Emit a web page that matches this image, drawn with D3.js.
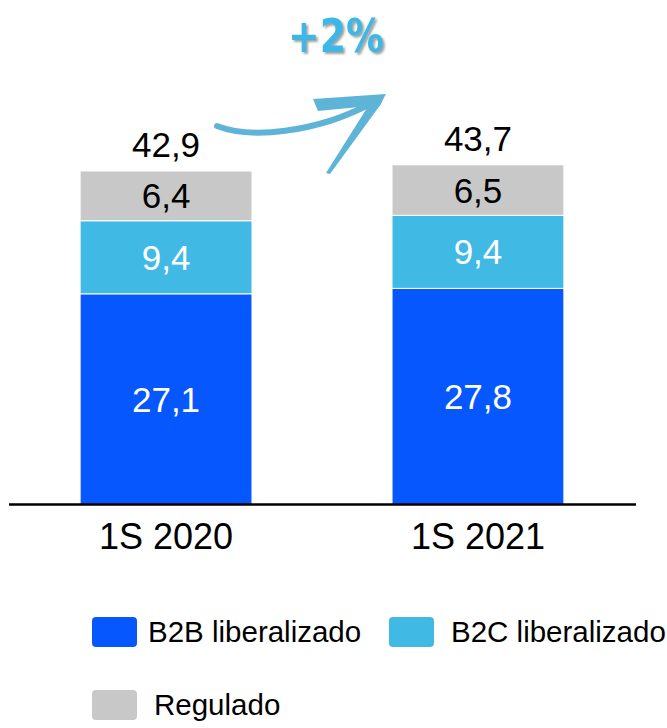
<!DOCTYPE html>
<html>
<head>
<meta charset="utf-8">
<script src="https://cdn.jsdelivr.net/npm/d3@7"></script>
<style>
  body { margin: 0; background: #fff; }
  svg { display: block; font-family: "Liberation Sans", Arial, sans-serif; }
</style>
</head>
<body>
<div id="chart"></div>
<script>
// data
var periods = ["1S 2020", "1S 2021"];
var b2b = [27.1, 27.8];
var b2c = [9.4, 9.4];
var regulado = [6.4, 6.5];
var totals = [42.9, 43.7];
var growthLabel = "+2%";

var seriesNames = ["B2B liberalizado", "B2C liberalizado", "Regulado"];
var seriesKeys = ["b2b", "b2c", "reg"];
var colors = ["#0757FE", "#41B9E5", "#C8C8C8"];
var labelColors = ["#fff", "#fff", "#000"];

var width = 667, height = 728;

var svg = d3.select("#chart").append("svg")
    .attr("width", width)
    .attr("height", height);

var rows = periods.map(function(p, i) {
    return { period: p, b2b: b2b[i], b2c: b2c[i], reg: regulado[i], total: totals[i] };
});

var x = d3.scaleBand()
    .domain(periods)
    .range([9, 635])
    .paddingInner(0.449)
    .paddingOuter(0.228);

var y = d3.scaleLinear()
    .domain([0, 50])
    .range([504.5, 115.8]);

var stack = d3.stack().keys(seriesKeys);
var layers = stack(rows);

// bars
var layerG = svg.selectAll("g.layer")
    .data(layers)
    .enter().append("g")
    .attr("class", "layer")
    .attr("fill", function(d, i) { return colors[i]; });

layerG.selectAll("rect")
    .data(function(d) { return d; })
    .enter().append("rect")
    .attr("x", function(d) { return x(d.data.period); })
    .attr("y", function(d) { return y(d[1]); })
    .attr("width", x.bandwidth())
    .attr("height", function(d) { return y(d[0]) - y(d[1]); })
    .attr("stroke", "#fff")
    .attr("stroke-width", 1);

// segment labels
layers.forEach(function(layer, li) {
    svg.append("g").selectAll("text")
        .data(layer)
        .enter().append("text")
        .attr("x", function(d) { return x(d.data.period) + x.bandwidth() / 2; })
        .attr("y", function(d) { return (y(d[0]) + y(d[1])) / 2 + 12.5; })
        .attr("text-anchor", "middle")
        .attr("font-size", "35px")
        .attr("fill", labelColors[li])
        .text(function(d) { return d3.format(".1f")(d[1] - d[0]).replace(".", ","); });
});

// totals
svg.append("g").selectAll("text")
    .data(rows)
    .enter().append("text")
    .attr("x", function(d) { return x(d.period) + x.bandwidth() / 2; })
    .attr("y", function(d) { return y(d.total) - 14; })
    .attr("text-anchor", "middle")
    .attr("font-size", "35px")
    .attr("fill", "#000")
    .text(function(d) { return d3.format(".1f")(d.total).replace(".", ","); });

// x axis
var xAxis = svg.append("g")
    .attr("transform", "translate(0,504.5)")
    .call(d3.axisBottom(x).tickSize(0).tickPadding(19));
xAxis.select(".domain").attr("d", "M9,0H636").attr("stroke", "#000").attr("stroke-width", 2.5);
xAxis.selectAll("text")
    .attr("font-size", "36px")
    .attr("font-family", "Liberation Sans, Arial, sans-serif")
    .attr("fill", "#000");

// growth arrow
var arrowColor = "#5DB4D7";
svg.append("path")
    .attr("d", "M217,126 C250,139 315,133 370,104")
    .attr("fill", "none")
    .attr("stroke", arrowColor)
    .attr("stroke-width", 6)
    .attr("stroke-linecap", "round");
svg.append("path")
    .attr("d", "M313,99 L386,94 L380,105 L318,111 Z")
    .attr("fill", arrowColor);
svg.append("path")
    .attr("d", "M384,96 L381,104 L330,174 L326,173 L372,100 Z")
    .attr("fill", arrowColor);

var defs = svg.append("defs");
var f = defs.append("filter").attr("id", "shadow").attr("x", "-20%").attr("y", "-20%")
    .attr("width", "140%").attr("height", "140%");
f.append("feDropShadow").attr("dx", 2).attr("dy", 2).attr("stdDeviation", 1.2)
    .attr("flood-color", "#888").attr("flood-opacity", 0.8);

svg.append("text")
    .attr("x", 288)
    .attr("y", 52)
    .attr("font-family", "DejaVu Sans, sans-serif")
    .attr("font-weight", "bold")
    .attr("font-size", "46px")
    .attr("textLength", 96)
    .attr("lengthAdjust", "spacingAndGlyphs")
    .attr("fill", "#3DB8E6")
    .attr("filter", "url(#shadow)")
    .text(growthLabel);

// legend
var legendPos = [[92, 617], [389, 617], [92, 690]];
var legend = svg.append("g").selectAll("g")
    .data(seriesNames)
    .enter().append("g")
    .attr("transform", function(d, i) { return "translate(" + legendPos[i][0] + "," + legendPos[i][1] + ")"; });

legend.append("rect")
    .attr("width", 45)
    .attr("height", 30)
    .attr("rx", 4)
    .attr("fill", function(d, i) { return colors[i]; });

legend.append("text")
    .attr("x", function(d, i) { return i === 0 ? 56 : 62; })
    .attr("y", 25)
    .attr("font-size", "29.5px")
    .attr("fill", "#000")
    .text(function(d) { return d; });
</script>
</body>
</html>
